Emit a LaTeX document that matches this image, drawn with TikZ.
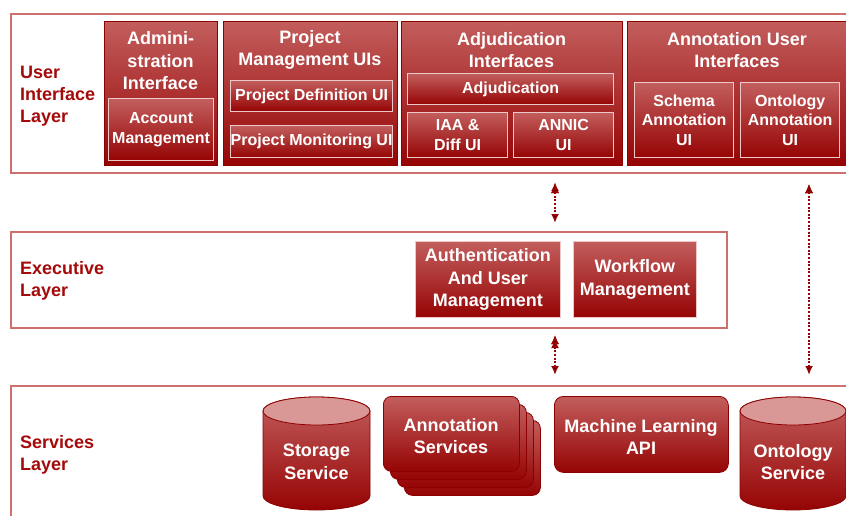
\documentclass[tikz,border=0pt]{standalone}
\usepackage{fontspec}
\setmainfont{Liberation Sans}
\usetikzlibrary{arrows.meta}

\definecolor{boxtop}{RGB}{194,94,93}
\definecolor{boxbot}{RGB}{150,4,4}
\definecolor{boxedge}{RGB}{140,0,0}
\definecolor{inneredge}{RGB}{236,200,200}
\definecolor{layeredge}{RGB}{205,112,110}
\definecolor{labelred}{RGB}{165,10,10}
\definecolor{cyltop}{RGB}{217,152,150}

\begin{document}
\begin{tikzpicture}[x=1pt, y=-1pt]
	\tikzstyle{layer_box} = [rectangle, draw=layeredge, line width=2pt, fill=white, anchor=north west, inner sep=0pt]
	\tikzstyle{layer_label} = [anchor=west, align=left, text=labelred, inner sep=0pt, font=\fontsize{18}{22}\selectfont\bfseries]
	\tikzstyle{box_outer} = [rectangle, draw=boxedge, line width=0.8pt, top color=boxtop, bottom color=boxbot, anchor=north west, inner sep=0pt, align=center, text=white, font=\fontsize{18}{22.5}\selectfont\bfseries]
	\tikzstyle{box_inner} = [box_outer, draw=inneredge, line width=1.2pt, font=\fontsize{16}{19.5}\selectfont\bfseries]
	\tikzstyle{box_title} = [align=center, text=white, inner sep=0pt, font=\fontsize{18}{22.5}\selectfont\bfseries]
	\tikzstyle{link} = [{Latex[length=9pt,width=8pt]}-{Latex[length=9pt,width=8pt]}, draw=boxbot, line width=2.2pt, dash pattern=on 2pt off 1.6pt]

	\useasboundingbox (0,0) rectangle (846,516);

%------------------------------------------------------------
	\node[layer_box, minimum width=840pt, minimum height=159pt] (ui) at (10,13) {};
	\node[layer_box, minimum width=716pt, minimum height=96pt] (exec) at (10,231) {};
	\node[layer_box, minimum width=840pt, minimum height=145pt] (svc) at (10,385) {};

	\node[layer_label] (ui_l) at (20,96) {User\\Interface\\Layer};
	\node[layer_label] (exec_l) at (20,281) {Executive\\Layer};
	\node[layer_label] (svc_l) at (20,455) {Services\\Layer};

%------------------------------------------------------------
	\node[box_outer, minimum width=113pt, minimum height=144pt] (admin) at (104,21) {};
	\node[box_title] (admin_t) at (160.5,61) {Admini-\\stration\\Interface};
	\node[box_inner, minimum width=105pt, minimum height=62pt] (acct) at (108,98) {Account\\Management};

	\node[box_outer, minimum width=174pt, minimum height=144pt] (pm) at (223,21) {};
	\node[box_title] (pm_t) at (310,50) {Project\\Management UIs};
	\node[box_inner, minimum width=162pt, minimum height=31pt] (pdef) at (230,80) {Project Definition UI};
	\node[box_inner, minimum width=162pt, minimum height=32pt] (pmon) at (230,125) {Project Monitoring UI};

	\node[box_outer, minimum width=221pt, minimum height=144pt] (adj) at (401,21) {};
	\node[box_title] (adj_t) at (511.5,50) {Adjudication\\Interfaces};
	\node[box_inner, minimum width=206pt, minimum height=31pt] (adj_in) at (407,73) {Adjudication};
	\node[box_inner, minimum width=100pt, minimum height=45pt] (iaa) at (407,112) {IAA \&\\Diff UI};
	\node[box_inner, minimum width=100pt, minimum height=45pt] (annic) at (513,112) {ANNIC\\UI};

	\node[box_outer, minimum width=224pt, minimum height=144pt] (anno) at (627,21) {};
	\node[box_title] (anno_t) at (737,50) {Annotation User\\Interfaces};
	\node[box_inner, minimum width=99pt, minimum height=75pt] (schema) at (634,82) {Schema\\Annotation\\UI};
	\node[box_inner, minimum width=99pt, minimum height=75pt] (onto_ui) at (740,82) {Ontology\\Annotation\\UI};

%------------------------------------------------------------
	\node[box_outer, draw=inneredge, minimum width=145pt, minimum height=76pt] (auth) at (415,241) {Authentication\\And User\\Management};
	\node[box_outer, draw=inneredge, minimum width=123pt, minimum height=76pt] (wf) at (573,241) {Workflow\\Management};

%------------------------------------------------------------
	% storage cylinder
	\draw[boxedge, line width=0.8pt, top color=boxtop, bottom color=boxbot] (263,411) -- (263,496)
		arc[start angle=180, end angle=0, x radius=53.5, y radius=14] -- (370,411)
		arc[start angle=0, end angle=-180, x radius=53.5, y radius=14] -- cycle;
	\draw[boxedge, line width=0.8pt, fill=cyltop] (316.5,411) ellipse[x radius=53.5, y radius=14];
	\node[box_title] (stor) at (316.5,462) {Storage\\Service};

	% annotation services stack
	\foreach \i in {3,2,1}
		\node[box_outer, rounded corners=8pt, minimum width=136pt, minimum height=75pt] (ann_svc\i) at ({383+7*\i},{396+8*\i}) {};
	\node[box_outer, rounded corners=8pt, minimum width=136pt, minimum height=75pt] (ann_svc) at (383,396) {};
	\node[box_title] (ann_svc_t) at (451,436) {Annotation\\Services};

	\node[box_outer, rounded corners=9pt, minimum width=174pt, minimum height=76pt] (ml) at (554,396) {};
	\node[box_title] (ml_t) at (641,437) {Machine Learning\\API};

	% ontology cylinder
	\draw[boxedge, line width=0.8pt, top color=boxtop, bottom color=boxbot] (740,411) -- (740,496)
		arc[start angle=180, end angle=0, x radius=53, y radius=14] -- (846,411)
		arc[start angle=0, end angle=-180, x radius=53, y radius=14] -- cycle;
	\draw[boxedge, line width=0.8pt, fill=cyltop] (793,411) ellipse[x radius=53, y radius=14];
	\node[box_title] (onto_svc) at (793,462) {Ontology\\Service};

%------------------------------------------------------------
	\coordinate (mid_x) at (555,0);
	\coordinate (right_x) at (809,0);

	\path[link, shorten <=10pt, shorten >=8pt] (ui.south -| mid_x) edge (exec.north -| mid_x);
	\path[link, shorten <=6pt, shorten >=10pt] (exec.south -| mid_x) edge (svc.north -| mid_x);
	\path[link, shorten <=10pt, shorten >=10pt] (ui.south -| right_x) edge (svc.north -| right_x);

\end{tikzpicture}
\end{document}
